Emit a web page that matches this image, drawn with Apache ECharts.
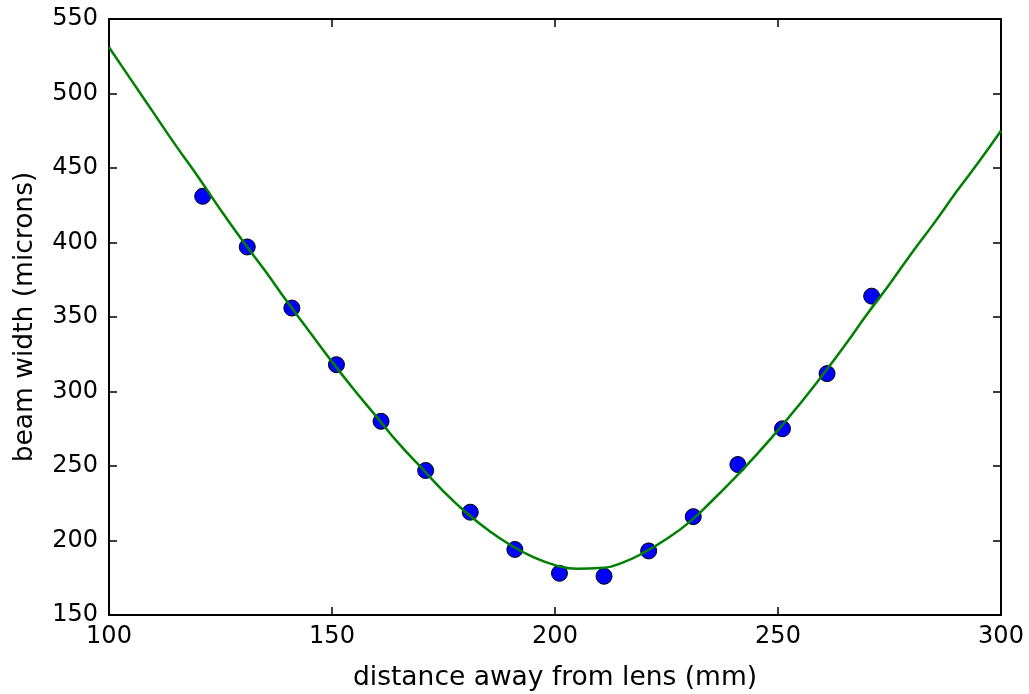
<!DOCTYPE html>
<html>
<head>
<meta charset="utf-8">
<script src="https://cdn.jsdelivr.net/npm/echarts@6/dist/echarts.min.js"></script>
<style>
  html, body { margin: 0; padding: 0; background: #fff; }
  #beam-chart { width: 1029px; height: 694px; }
</style>
</head>
<body>
<div id="beam-chart"></div>
<script>
// measured beam widths
const distMm = [121, 131, 141, 151, 161, 171, 181, 191, 201, 211, 221, 231, 241, 251, 261, 271];
const widthUm = [431, 397, 356, 318, 280, 247, 219, 194, 178, 176, 193, 216, 251, 275, 312, 364];

// fitted curve
const fitDist = [100, 105, 110, 115, 120, 125, 130, 135, 140, 145, 150, 155, 160, 165, 170, 175, 180, 185, 190, 195,
  200, 205, 210, 215, 220, 225, 230, 235, 240, 245, 250, 255, 260, 265, 270, 275, 280, 285, 290, 295, 300];
const fitWidth = [531, 509, 487, 465, 444, 422, 401, 381, 360, 340, 320, 301, 283, 265, 249, 233, 219, 207, 197, 189,
  183.5, 181, 181.5, 185, 192, 201, 212, 226, 241, 257, 274, 292, 311, 331, 352, 372, 393, 413, 434, 454, 475];

const xTicks = [100, 150, 200, 250, 300];
const yTicks = [150, 200, 250, 300, 350, 400, 450, 500, 550];

const font = 'DejaVu Sans';
const boxLine = { show: true, onZero: false, lineStyle: { color: '#000', width: 2 } };
const inTick = { show: true, inside: true, length: 8, lineStyle: { color: '#000', width: 1.5 } };

let myChart = echarts.init(document.getElementById('beam-chart'));
let option = {
  animation: false,
  grid: { left: 109, right: 28, top: 19, bottom: 79, outerBoundsMode: 'none', containLabel: false },
  xAxis: [
    {
      type: 'value',
      min: xTicks[0],
      max: xTicks[xTicks.length - 1],
      interval: 50,
      name: 'distance away from lens (mm)',
      nameLocation: 'middle',
      nameGap: 50,
      nameTextStyle: { fontFamily: font, fontSize: 26.5, color: '#000' },
      axisLine: boxLine,
      axisTick: inTick,
      axisLabel: { fontFamily: font, fontSize: 24, color: '#000', margin: 10 },
      splitLine: { show: false }
    },
    {
      type: 'value',
      position: 'top',
      min: xTicks[0],
      max: xTicks[xTicks.length - 1],
      interval: 50,
      axisLine: boxLine,
      axisTick: inTick,
      axisLabel: { show: false },
      splitLine: { show: false }
    }
  ],
  yAxis: [
    {
      type: 'value',
      min: yTicks[0],
      max: yTicks[yTicks.length - 1],
      interval: 50,
      name: 'beam width (microns)',
      nameLocation: 'middle',
      nameGap: 70,
      nameTextStyle: { fontFamily: font, fontSize: 26.5, color: '#000' },
      axisLine: boxLine,
      axisTick: inTick,
      axisLabel: { fontFamily: font, fontSize: 24, color: '#000', margin: 11 },
      splitLine: { show: false }
    },
    {
      type: 'value',
      position: 'right',
      min: yTicks[0],
      max: yTicks[yTicks.length - 1],
      interval: 50,
      axisLine: boxLine,
      axisTick: inTick,
      axisLabel: { show: false },
      splitLine: { show: false }
    }
  ],
  series: [
    {
      type: 'line',
      data: fitDist.map((d, i) => [d, fitWidth[i]]),
      smooth: true,
      showSymbol: false,
      lineStyle: { color: '#008000', width: 2.5 },
      z: 2
    },
    {
      type: 'scatter',
      data: distMm.map((d, i) => [d, widthUm[i]]),
      symbol: 'circle',
      symbolSize: 16,
      itemStyle: { color: '#0000ff', opacity: 1, borderColor: '#000', borderWidth: 1 },
      z: 1
    }
  ]
};
myChart.setOption(option, true);
</script>
</body>
</html>
